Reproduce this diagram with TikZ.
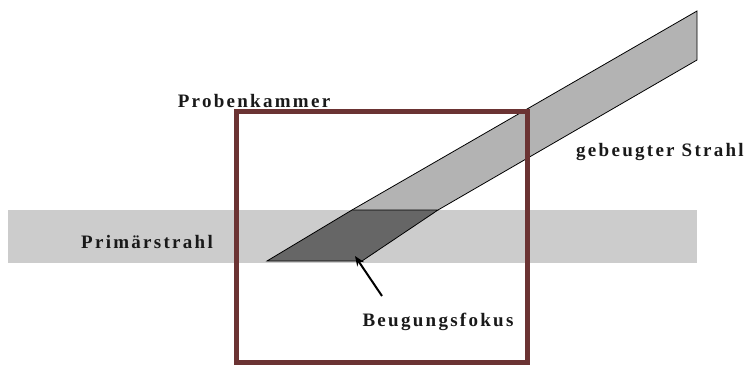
\documentclass[tikz,border=0pt]{standalone}
\usetikzlibrary{arrows.meta}
\usepackage{fontspec}
\setmainfont{Liberation Serif}
\newfontfamily\lblfont[LetterSpace=12]{Liberation Serif}
\begin{document}
\begin{tikzpicture}[x=1pt,y=-1pt,
  lbl/.style={font=\lblfont\fontsize{19}{22}\selectfont\bfseries, inner sep=0pt, text=black!90},
  beamedge/.style={draw=black, line width=0.8pt, line join=miter}]
\useasboundingbox (0,0) rectangle (748,367);
% primary beam
\fill[fill={rgb,255:red,204;green,204;blue,204}] (8,210) rectangle (697,263);
% diffracted beam (light)
\coordinate (tl) at (352,210);
\coordinate (tr) at (438,210);
\coordinate (el) at (697,11);
\coordinate (er) at (697,60);
\filldraw[fill={rgb,255:red,179;green,179;blue,179}, beamedge] (tl) -- (el) -- (er) -- (tr);
% focus (dark)
\coordinate (bl) at (267,261);
\coordinate (br) at (362,261);
\filldraw[fill={rgb,255:red,102;green,102;blue,102}, beamedge] (bl) -- (br) -- (tr) -- (tl) -- cycle;
% sample chamber
\draw[draw={rgb,255:red,107;green,51;blue,51}, line width=5pt] (236,111) rectangle (527,362);
% labels
\node[lbl] (prob) at (254,101) {Probenkammer};
\node[lbl] (geb) at (660,152) {gebeugter Strahl};
\node[lbl] (prim) at (147,242) {Primärstrahl};
\node[lbl] (fok) at (438,322) {Beugungsfokus};
\coordinate (tail) at (382,296);
\coordinate (head) at (355,256);
\draw[-{Stealth[length=10pt,width=8pt]}, line width=2pt] (tail) -- (head);
\end{tikzpicture}
\end{document}
